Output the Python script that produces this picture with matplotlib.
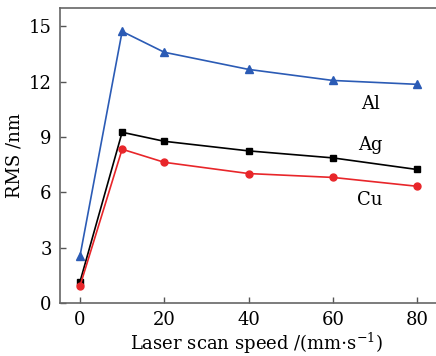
import matplotlib
matplotlib.use('Agg')
import matplotlib.pyplot as plt

plt.rcParams['font.family'] = ['DejaVu Serif']
plt.rcParams['mathtext.fontset'] = 'dejavuserif'

# data
speed = [0, 10, 20, 40, 60, 80]
rms_al = [2.55, 14.73, 13.6, 12.67, 12.07, 11.86]
rms_ag = [1.15, 9.26, 8.77, 8.25, 7.87, 7.24]
rms_cu = [0.92, 8.34, 7.63, 7.02, 6.81, 6.33]
yticks = [0, 3, 6, 9, 12, 15]
xticks = [0, 20, 40, 60, 80]

fig = plt.figure(figsize=(4.36, 3.56), dpi=100)
ax = fig.add_axes([0.1376, 0.149, 0.9, 0.8285])

ax.plot(speed, rms_al, marker='^', color='#2b5bb5', lw=1.2, ms=6)
ax.plot(speed, rms_ag, marker='s', color='black', lw=1.2, ms=5)
ax.plot(speed, rms_cu, marker='o', color='#e8262a', lw=1.2, ms=5)

ax.text(68.9, 10.8, 'Al', fontsize=13, ha='center', va='center')
ax.text(68.9, 8.55, 'Ag', fontsize=13, ha='center', va='center')
ax.text(68.9, 5.6, 'Cu', fontsize=13, ha='center', va='center')

ax.set_xlim(-4.75, 88.4)
ax.set_ylim(0, 16)
ax.set_xticks(xticks)
ax.set_yticks(yticks)
ax.tick_params(direction='in', length=4, width=1, color='#555555', labelsize=13, pad=6)
for s in ax.spines.values():
    s.set_color('#666666')
    s.set_linewidth(1.2)
ax.spines['right'].set_visible(False)

ax.set_xlabel(r'Laser scan speed /(mm$\cdot$s$^{-1}$)', fontsize=13, labelpad=1)
ax.set_ylabel('RMS /nm', fontsize=13, labelpad=4)

fig.savefig('out.png', dpi=100)
